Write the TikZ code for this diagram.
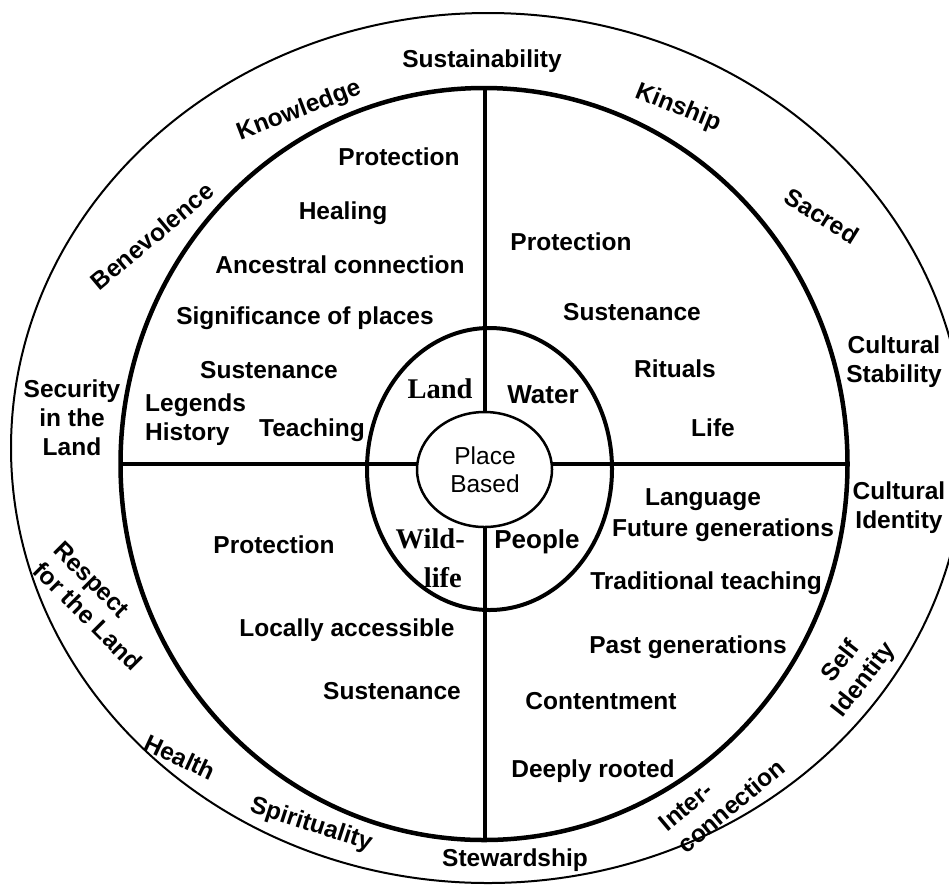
\documentclass[tikz,border=0pt]{standalone}
\usepackage{fontspec}
\setmainfont{Liberation Sans}
\newfontfamily\serifface{Liberation Serif}
\usetikzlibrary{shapes.geometric}

\begin{document}
\begin{tikzpicture}[x=1pt, y=-1pt,
  ring/.style={draw, ellipse, inner sep=0pt, outer sep=0pt},
  divider/.style={line width=4pt},
  word/.style={font=\fontsize{24.5}{29}\selectfont\bfseries, inner sep=0pt, align=center},
  hubword/.style={font=\fontsize{24.5}{28}\selectfont, inner sep=0pt, align=center},
  serifword/.style={font=\serifface\fontsize{28.5}{34}\selectfont\bfseries, inner sep=0pt},
  sansheavy/.style={font=\fontsize{26}{30}\selectfont\bfseries, inner sep=0pt}]

\useasboundingbox (0,0) rectangle (949,884);

% rings (the outer one runs slightly past the right edge of the page)
\node[ring, line width=2pt, minimum width=954pt, minimum height=870pt] (outer) at (488,448) {};
\node[ring, line width=4.5pt, minimum width=727pt, minimum height=752pt] (mid) at (484,464) {};
\node[ring, line width=4pt, minimum width=245pt, minimum height=282pt] (inner) at (489.5,469) {};
\node[ring, line width=2.5pt, minimum width=135pt, minimum height=115pt] (hub) at (484.5,469.5) {};

% quadrant dividers
\draw[divider] (hub.north) -- (hub.north |- mid.north);
\draw[divider] (hub.south) -- (hub.south |- mid.south);
\draw[divider] (mid.west) -- (mid.west -| hub.west);
\draw[divider] (mid.east -| hub.east) -- (mid.east);

% centre
\node[hubword] (place) at (485,470) {Place\\Based};
\node[serifword] (land) at (440,389) {Land};
\node[sansheavy] (water) at (543,395) {Water};
\node[serifword, anchor=base east] (wild) at (465,548) {Wild-};
\node[serifword, anchor=base east] (life) at (462,587) {life};
\node[sansheavy] (people) at (537,542) {People};

% upper left quadrant
\node[word] (ul1) at (399,157) {Protection};
\node[word] (ul2) at (343,213) {Healing};
\node[word] (ul3) at (340,265) {Ancestral connection};
\node[word] (ul4) at (305,318) {Significance of places};
\node[word] (ul5) at (269,370) {Sustenance};
\node[word, align=left, anchor=west] (ul6) at (145,420) {Legends\\History};
\node[word] (ul7) at (312,430) {Teaching};

% upper right quadrant
\node[word] (ur1) at (571,242) {Protection};
\node[word] (ur2) at (632,312) {Sustenance};
\node[word] (ur3) at (675,369) {Rituals};
\node[word] (ur4) at (713,428) {Life};

% lower right quadrant
\node[word] (lr1) at (703,500) {Language};
\node[word] (lr2) at (723,530) {Future generations};
\node[word] (lr3) at (706,583) {Traditional teaching};
\node[word] (lr4) at (688,647) {Past generations};
\node[word] (lr5) at (601,701) {Contentment};
\node[word] (lr6) at (593,771) {Deeply rooted};

% lower left quadrant
\node[word] (ll1) at (274,545) {Protection};
\node[word] (ll2) at (347,630) {Locally accessible};
\node[word] (ll3) at (392,691) {Sustenance};

% outer band
\node[word] (sust) at (482,61) {Sustainability};
\node[word, rotate=21] (know) at (299,111) {Knowledge};
\node[word, rotate=40] (bene) at (152,236) {Benevolence};
\node[word, rotate=-22] (kin) at (678,108) {Kinship};
\node[word, rotate=-32] (sacred) at (822,216) {Sacred};
\node[word] (cstab) at (894,362) {Cultural\\Stability};
\node[word] (cident) at (899,508) {Cultural\\Identity};
\node[word, rotate=52] (selfid) at (853,671) {Self\\Identity};
\node[word, rotate=40, align=left] (interc) at (722,795) {Inter-\\connection};
\node[word] (stew) at (515,860) {Stewardship};
\node[word, rotate=-18] (spirit) at (311,825) {Spirituality};
\node[word, rotate=-25] (health) at (180,757) {Health};
\node[word, rotate=-45, align=left] (respect) at (98,606) {Respect\\for the Land};
\node[word] (secur) at (72,418) {Security\\in the\\Land};

\end{tikzpicture}
\end{document}
